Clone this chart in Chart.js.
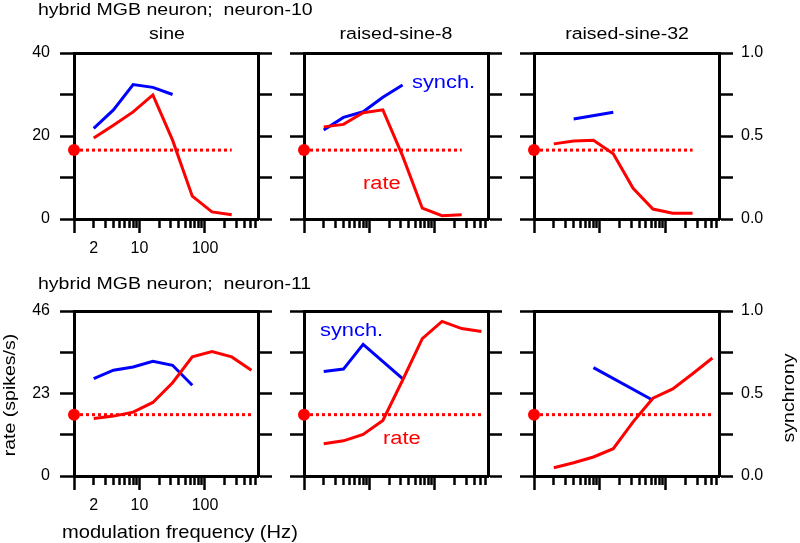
<!DOCTYPE html>
<html>
<head>
<meta charset="utf-8">
<script src="https://cdn.jsdelivr.net/npm/chart.js@4"></script>
<style>
  html, body { margin: 0; padding: 0; background: #fff; }
  #wrap { position: relative; width: 800px; height: 543px; overflow: hidden; }
  #wrap canvas, #wrap svg { position: absolute; left: 0; top: 0; }
  svg text { font-family: 'Liberation Sans', Arial, sans-serif; white-space: pre; }
</style>
</head>
<body>
<div id="wrap">
  <svg width="800" height="543" viewBox="0 0 800 543" style="z-index:10">
    <g font-size="17" fill="#000">
      <text transform="translate(38,15) scale(1.15,1)">hybrid MGB neuron;  neuron-10</text>
      <text transform="translate(167,39) scale(1.15,1)" text-anchor="middle">sine</text>
      <text transform="translate(396,39) scale(1.15,1)" text-anchor="middle">raised-sine-8</text>
      <text transform="translate(627,39) scale(1.15,1)" text-anchor="middle">raised-sine-32</text>
      <text transform="translate(38,289) scale(1.15,1)">hybrid MGB neuron;  neuron-11</text>
      <text transform="translate(62,538) scale(1.15,1)" font-size="17.5">modulation frequency (Hz)</text>
      <text transform="translate(14.5,395) rotate(-90) scale(1.15,1)" text-anchor="middle">rate (spikes/s)</text>
      <text transform="translate(794,398) rotate(-90) scale(1.15,1)" text-anchor="middle">synchrony</text>
    </g>
    <g font-size="19">
      <text transform="translate(412,88) scale(1.15,1)" fill="#0000ff">synch.</text>
      <text transform="translate(363,189) scale(1.15,1)" fill="#ff0000">rate</text>
      <text transform="translate(320,336) scale(1.15,1)" fill="#0000ff">synch.</text>
      <text transform="translate(383,444) scale(1.15,1)" fill="#ff0000">rate</text>
    </g>
  </svg>
</div>
<script>
// modulation frequencies (Hz)
const freqs = [2, 4, 8, 16, 32, 64, 128, 256, 512];
const xTickVals = [1, 2, 3, 4, 5, 6, 7, 8, 9, 10, 20, 30, 40, 50, 60, 70, 80, 90, 100, 200, 300, 400, 500, 600];
const xMajor = [1, 10, 100];
const xLabels = [2, 10, 100];

// neuron-10 (rate in spikes/s, synchrony 0..1)
const rateN10Sine = [19.5, 22.6, 25.8, 29.9, 19.0, 5.5, 1.7, 1.0];
const syncN10Sine = [0.546, 0.657, 0.81, 0.793, 0.75];
const rateN10Rs8 = [22.2, 22.8, 25.6, 26.3, 15.2, 2.6, 0.8, 1.0];
const syncN10Rs8 = [0.536, 0.612, 0.646, 0.733, 0.807];
const rateN10Rs32 = [18.1, 18.8, 19.0, 15.7, 7.4, 2.4, 1.4, 1.4];
const syncN10Rs32 = [null, 0.602, null, 0.643];
const spontN10 = 16.6;

// neuron-11
const rateN11Sine = [16.0, 16.7, 17.8, 20.5, 26.0, 33.2, 34.7, 33.2, 29.5];
const syncN11Sine = [0.590, 0.641, 0.661, 0.695, 0.671, 0.550];
const rateN11Rs8 = [9.0, 9.8, 11.6, 15.5, 26.7, 38.3, 43.1, 41.1, 40.3];
const syncN11Rs8 = [0.634, 0.648, 0.798, null, 0.590];
const rateN11Rs32 = [2.3, 3.7, 5.3, 7.6, 15.1, 21.7, 24.3, 28.5, 32.9];
const syncN11Rs32 = [null, null, 0.657, null, null, 0.459];
const spontN11 = 17.1;

// rate axes per row
const rateMax = [40, 46];
const rateStep = [10, 11.5];
const rateLabels = [[0, 20, 40], [0, 23, 46]];
const syncLabels = [0, 0.5, 1];

// panel frame in page pixels
const colLeft = [74, 304, 534];
const colRight = [258, 488, 719];
const rowTop = [53, 311];
const rowBottom = [219, 476];

const panels = [
  { row: 0, col: 0, rate: rateN10Sine, sync: syncN10Sine, spont: spontN10 },
  { row: 0, col: 1, rate: rateN10Rs8, sync: syncN10Rs8, spont: spontN10 },
  { row: 0, col: 2, rate: rateN10Rs32, sync: syncN10Rs32, spont: spontN10 },
  { row: 1, col: 0, rate: rateN11Sine, sync: syncN11Sine, spont: spontN11 },
  { row: 1, col: 1, rate: rateN11Rs8, sync: syncN11Rs8, spont: spontN11 },
  { row: 1, col: 2, rate: rateN11Rs32, sync: syncN11Rs32, spont: spontN11 }
];

const font = { family: "'Liberation Sans', Arial, sans-serif", size: 16 };
const RED = '#ff0000', BLUE = '#0000ff';

function pts(arr) {
  return arr.map((v, i) => ({ x: freqs[i], y: v }));
}

function makePanel(p) {
  const L = p.col === 0 ? colLeft[0] : 40;
  const R = p.col === 2 ? 800 - colRight[2] : 40;
  const X = 40;
  const yMax = rateMax[p.row];
  const last = freqs[p.rate.length - 1];

  const canvas = document.createElement('canvas');
  canvas.width = 800;
  canvas.height = 543;
  document.getElementById('wrap').appendChild(canvas);

  new Chart(canvas, {
    type: 'line',
    data: {
      datasets: [
        { data: pts(p.rate), yAxisID: 'y', borderColor: RED, borderWidth: 3, pointRadius: 0, tension: 0 },
        { data: pts(p.sync), yAxisID: 'y1', borderColor: BLUE, borderWidth: 3, pointRadius: 0, tension: 0, spanGaps: true },
        { data: [{ x: 1, y: p.spont }, { x: last, y: p.spont }], yAxisID: 'y', borderColor: RED,
          borderWidth: 3, borderDash: [3, 3], pointRadius: 0 },
        { data: [{ x: 1, y: p.spont }], yAxisID: 'y', showLine: false, pointRadius: 6,
          pointBackgroundColor: RED, pointBorderWidth: 0, clip: false }
      ]
    },
    options: {
      responsive: false,
      animation: false,
      events: [],
      plugins: { legend: { display: false }, tooltip: { enabled: false } },
      layout: {
        padding: {
          left: colLeft[p.col] - L,
          right: 800 - colRight[p.col] - R,
          top: rowTop[p.row],
          bottom: 543 - rowBottom[p.row] - X
        }
      },
      scales: {
        x: {
          type: 'logarithmic',
          min: 1,
          max: 645,
          bounds: 'data',
          afterBuildTicks: s => { s.ticks = xTickVals.map(v => ({ value: v })); },
          afterFit: s => { s.height = X; },
          border: { color: '#000', width: 3 },
          grid: {
            drawOnChartArea: false,
            tickLength: 14,
            tickWidth: 2.5,
            tickColor: '#000',
            tickBorderDash: c => (c.tick && xMajor.includes(c.tick.value)) ? [] : [7, 40]
          },
          ticks: {
            autoSkip: false, maxRotation: 0, minRotation: 0, padding: 6, color: '#000', font,
            callback: v => (p.col === 0 && xLabels.includes(v)) ? String(v) : ''
          }
        },
        y: {
          position: 'left',
          min: 0,
          max: yMax,
          afterFit: s => { s.width = L; },
          border: { color: '#000', width: 3 },
          grid: {
            lineWidth: 3,
            color: c => (c.tick && c.tick.value === yMax) ? '#000' : 'rgba(0,0,0,0)',
            tickLength: 14,
            tickWidth: 2.5,
            tickColor: '#000'
          },
          ticks: {
            stepSize: rateStep[p.row], padding: 10, color: '#000', font,
            callback: v => (p.col === 0 && rateLabels[p.row].includes(v)) ? String(v) : ''
          }
        },
        y1: {
          position: 'right',
          min: 0,
          max: 1,
          afterFit: s => { s.width = R; },
          border: { color: '#000', width: 3 },
          grid: { drawOnChartArea: false, tickLength: 14, tickWidth: 2.5, tickColor: '#000' },
          ticks: {
            stepSize: 0.25, padding: 8, color: '#000', font,
            callback: v => (p.col === 2 && syncLabels.includes(v)) ? v.toFixed(1) : ''
          }
        }
      }
    }
  });
}

panels.forEach(makePanel);
</script>
</body>
</html>
